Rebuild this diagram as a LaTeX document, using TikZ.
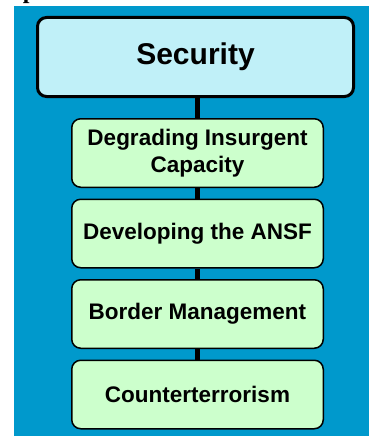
\documentclass[tikz,border=0pt]{standalone}
\usepackage{fontspec}
\setmainfont{Liberation Serif}
\newfontfamily\arialfont{Liberation Sans}
\usetikzlibrary{positioning}
\definecolor{panelblue}{RGB}{0,153,204}
\definecolor{topcyan}{RGB}{192,240,248}
\definecolor{areagreen}{RGB}{204,255,204}
\begin{document}
\begin{tikzpicture}[x=1pt,y=-1pt,node distance=10.5pt,
	topbox/.style={draw,line width=3pt,rounded corners=9pt,fill=topcyan,minimum width=316pt,minimum height=79pt,font=\arialfont\bfseries\fontsize{30}{34}\selectfont},
	areabox/.style={draw,line width=1.5pt,rounded corners=9pt,fill=areagreen,minimum width=251.5pt,minimum height=68.5pt,align=center,font=\arialfont\bfseries\fontsize{22.5}{27}\selectfont},
	link/.style={line width=5pt}]
		\useasboundingbox (0,0) rectangle (369,436);
		\fill[panelblue] (14,6) rectangle (369,436);
		\node[anchor=base west,font=\bfseries\fontsize{24}{28}\selectfont,inner sep=0pt] (title) at (4,-1.5) {Operational Focus Areas};
		\node[topbox] (sec) at (195.5,57) {Security};
		\node[areabox] (deg) at (197.5,153) {Degrading Insurgent\\Capacity};
		\node[areabox,below=of deg] (ansf) {Developing the ANSF};
		\node[areabox,below=of ansf] (bord) {Border Management};
		\node[areabox,below=of bord] (ct) {Counterterrorism};
		\draw[link] (sec.south-|deg) -- (deg);
		\draw[link] (deg) -- (ansf);
		\draw[link] (ansf) -- (bord);
		\draw[link] (bord) -- (ct);
	\end{tikzpicture}
\end{document}
